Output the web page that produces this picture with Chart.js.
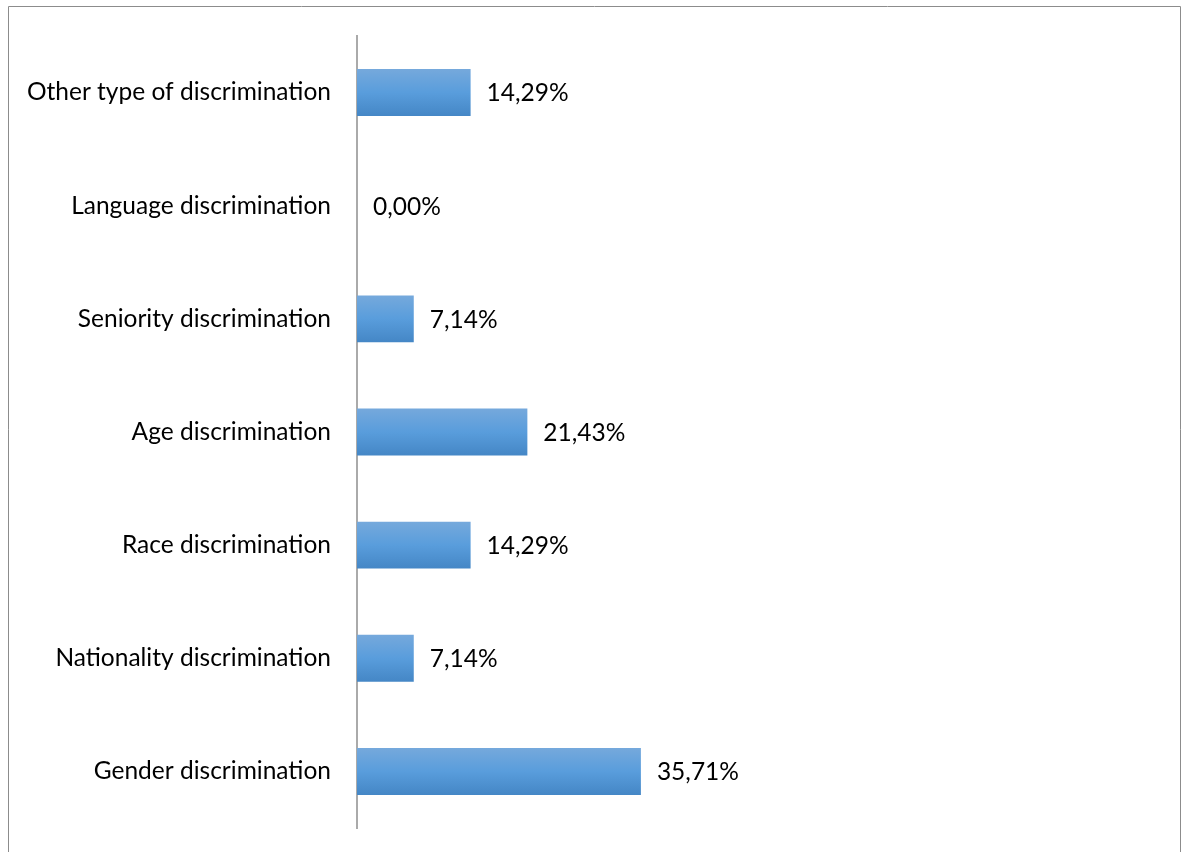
<!DOCTYPE html>
<html>
<head>
    <title>Types of discrimination</title>
    <script src="https://cdn.jsdelivr.net/npm/chart.js"></script>
    <style>
        body {
            margin: 0;
            padding: 0;
            background-color: #ffffff;
        }
        canvas {
            display: block;
        }
    </style>
</head>
<body>
    <canvas id="chart" width="1186" height="852"></canvas>

<script>
        // Categories top to bottom and their share in percent
        const categories = [
            'Other type of discrimination',
            'Language discrimination',
            'Seniority discrimination',
            'Age discrimination',
            'Race discrimination',
            'Nationality discrimination',
            'Gender discrimination'
        ];
        const shares = [14.29, 0.00, 7.14, 21.43, 14.29, 7.14, 35.71];

        const labelFont = { family: 'Lato, "Open Sans", sans-serif', size: 24.5 };

        // Outer frame around the whole chart
        const framePlugin = {
            id: 'frame',
            beforeDraw(chart) {
                const c = chart.ctx;
                c.save();
                c.strokeStyle = '#8c8c8c';
                c.lineWidth = 1;
                c.beginPath();
                c.moveTo(8.5, 860);
                c.lineTo(8.5, 6.5);
                c.lineTo(1180.5, 6.5);
                c.lineTo(1180.5, 860);
                c.stroke();
                c.restore();
            }
        };

        // Percentage text to the right of each bar, with decimal comma
        const valueLabels = {
            id: 'valueLabels',
            afterDatasetsDraw(chart) {
                const c = chart.ctx;
                const meta = chart.getDatasetMeta(0);
                c.save();
                c.font = labelFont.size + 'px ' + labelFont.family;
                c.fillStyle = '#000000';
                c.textAlign = 'left';
                c.textBaseline = 'middle';
                meta.data.forEach((bar, i) => {
                    const text = shares[i].toFixed(2).replace('.', ',') + '%';
                    c.fillText(text, bar.x + 16, bar.y + 1);
                });
                c.restore();
            }
        };

        // Vertical gradient per bar
        function barFill(ctx) {
            const chart = ctx.chart;
            if (!chart.chartArea || !chart.scales.y) return '#5b9bd5';
            const yc = chart.scales.y.getPixelForValue(ctx.dataIndex);
            const g = chart.ctx.createLinearGradient(0, yc - 24, 0, yc + 24);
            g.addColorStop(0, '#76a9dc');
            g.addColorStop(0.5, '#599ddc');
            g.addColorStop(1, '#4486c5');
            return g;
        }

        new Chart(document.getElementById('chart').getContext('2d'), {
            type: 'bar',
            data: {
                labels: categories,
                datasets: [{
                    data: shares,
                    backgroundColor: barFill,
                    borderWidth: 0,
                    barPercentage: 0.415,
                    categoryPercentage: 1
                }]
            },
            options: {
                indexAxis: 'y',
                responsive: false,
                animation: false,
                devicePixelRatio: 1,
                layout: {
                    padding: { top: 36, bottom: 24, left: 0, right: 34 }
                },
                plugins: {
                    legend: { display: false },
                    tooltip: { enabled: false }
                },
                scales: {
                    x: {
                        display: false,
                        min: 0,
                        max: 100
                    },
                    y: {
                        afterFit(scale) {
                            scale.width = 357;
                            scale.paddingTop = 0;
                            scale.paddingBottom = 0;
                        },
                        grid: { display: false, drawTicks: false },
                        border: { display: true, color: '#aaaaaa', width: 2 },
                        ticks: {
                            color: '#000000',
                            font: labelFont,
                            padding: 26
                        }
                    }
                }
            },
            plugins: [framePlugin, valueLabels]
        });
    </script>
</body>
</html>
